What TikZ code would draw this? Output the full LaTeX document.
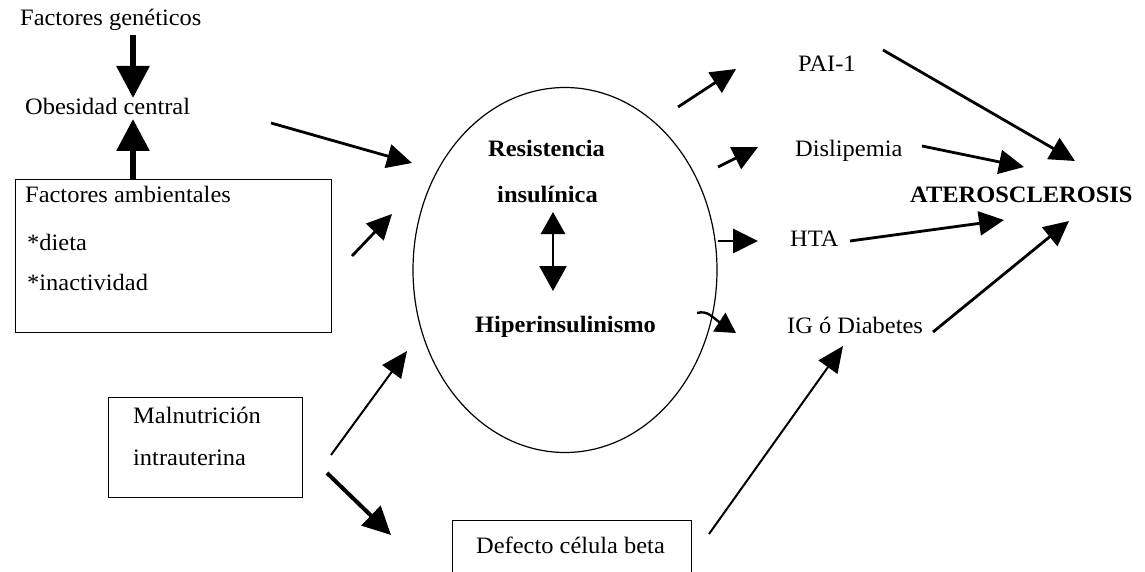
\documentclass[tikz,border=0pt]{standalone}
\usepackage{fontspec}
\setmainfont{Liberation Serif}[FakeStretch=1.04]
\usetikzlibrary{arrows.meta,shapes.geometric}
\begin{document}
\begin{tikzpicture}[x=1pt,y=-1pt,
  lbl/.style={anchor=base west, inner sep=0pt, font=\fontsize{23.5}{28}\selectfont},
  blbl/.style={anchor=base west, inner sep=0pt, font=\fontsize{23.5}{28}\selectfont\bfseries},
  boxnode/.style={draw, line width=1.3pt, inner sep=0pt, anchor=north west},
  bigarr/.style={line width=6pt, -{Triangle[length=32pt,width=32pt]}},
  medarr/.style={line width=4pt, -{Triangle[length=28pt,width=27pt]}},
  arr/.style={line width=2.8pt, -{Triangle[length=25pt,width=24pt]}},
  thinarr/.style={line width=2pt, -{Triangle[length=26pt,width=23pt]}},
  dblarr/.style={line width=2.6pt, {Triangle[length=22pt,width=24pt]}-{Triangle[length=25pt,width=27pt]}}]
\useasboundingbox[fill=white] (0,0) rectangle (1145,572);

% text nodes
\node[lbl] (gen) at (20,26) {Factores genéticos};
\node[lbl] (obes) at (25,115) {Obesidad central};
\node[boxnode, minimum width=316pt, minimum height=153pt] (amb) at (15,179) {};
\node[lbl] (ambt) at (25,203) {Factores ambientales};
\node[lbl] (diet) at (27,250) {*dieta};
\node[lbl] (inact) at (27,290) {*inactividad};
\node[boxnode, minimum width=194pt, minimum height=100pt] (malbox) at (108,397) {};
\node[lbl] (mal1) at (133,423) {Malnutrición};
\node[lbl] (mal2) at (133,465) {intrauterina};
\node[boxnode, minimum width=239pt, minimum height=56pt] (defbox) at (452,520) {};
\node[lbl] (def) at (476,553) {Defecto célula beta};

\node[draw, ellipse, line width=1.2pt, inner sep=0pt, minimum width=304pt, minimum height=365pt] (ell) at (565,270) {};
\node[blbl] (resis) at (488,157) {Resistencia};
\node[blbl] (insul) at (497,202) {insulínica};
\node[blbl] (hiper) at (475,332) {Hiperinsulinismo};

\node[lbl] (pai) at (798,72) {PAI-1};
\node[lbl] (dis) at (795,157) {Dislipemia};
\node[lbl] (hta) at (790,246) {HTA};
\node[lbl] (ig) at (787,333) {IG ó Diabetes};
\node[blbl] (ater) at (910,202) {ATEROSCLEROSIS};

% connector end points
\coordinate (g0) at (133,35);
\coordinate (g1) at (133,98);
\coordinate (a1) at (133,119);
\coordinate (o0) at (271,123);
\coordinate (o1) at (412,163);
\coordinate (b0) at (352,256);
\coordinate (b1) at (392,214);
\coordinate (m0) at (331,455);
\coordinate (m1) at (407,351);
\coordinate (n0) at (327,473);
\coordinate (n1) at (391,535);
\coordinate (d0) at (709,534);
\coordinate (d1) at (843,346);
\coordinate (p0) at (678,107);
\coordinate (p1) at (736,69);
\coordinate (s0) at (718,167);
\coordinate (s1) at (758,147);
\coordinate (h1) at (758,241);
\coordinate (i0) at (697,313);
\coordinate (i1) at (736,333);
\coordinate (pa0) at (883,50);
\coordinate (pa1) at (1075,161);
\coordinate (di0) at (922,146);
\coordinate (di1) at (1024,167);
\coordinate (ht0) at (850,241);
\coordinate (ht1) at (1004,220);
\coordinate (ig0) at (933,332);
\coordinate (ig1) at (1069,221);
\coordinate (r0) at (553,212);
\coordinate (r1) at (553,291);

% connectors
\draw[bigarr] (g0) -- (g1);
\draw[bigarr] (g0 |- amb.north) -- (a1);
\draw[arr] (o0) -- (o1);
\draw[arr] (b0) -- (b1);
\draw[thinarr] (m0) -- (m1);
\draw[medarr] (n0) -- (n1);
\draw[thinarr] (d0) -- (d1);
\draw[dblarr] (r0) -- (r1);
\draw[arr] (p0) -- (p1);
\draw[arr] (s0) -- (s1);
\draw[arr] (ell.east |- h1) -- (h1);
\draw[line width=2.4pt, -{Triangle[length=20pt,width=22pt]}] (i0) .. controls (708,310) and (713,318) .. (i1);
\draw[arr] (pa0) -- (pa1);
\draw[arr] (di0) -- (di1);
\draw[arr] (ht0) -- (ht1);
\draw[arr] (ig0) -- (ig1);
\end{tikzpicture}
\end{document}
